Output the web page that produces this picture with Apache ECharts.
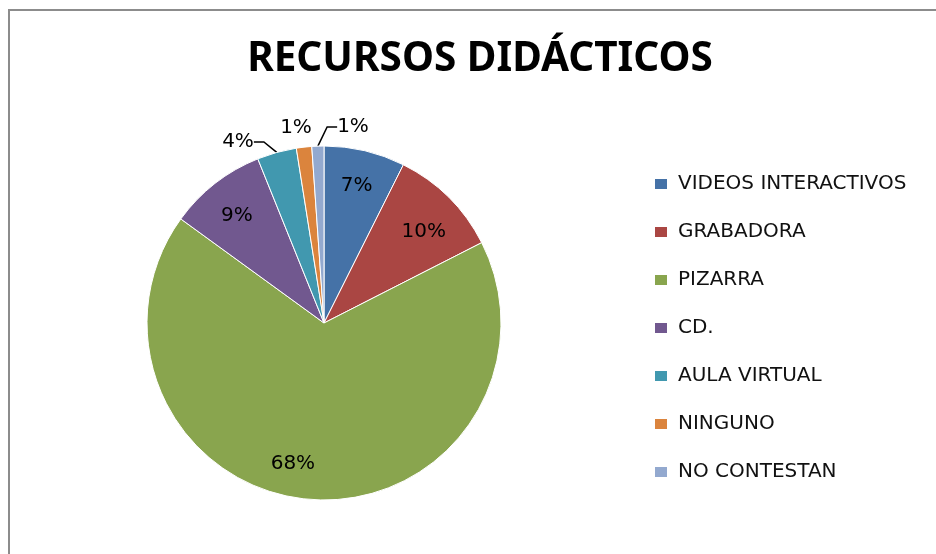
<!DOCTYPE html>
<html>
<head>
<meta charset="utf-8">
<script src="https://cdn.jsdelivr.net/npm/echarts@6/dist/echarts.min.js"></script>
<style>
html, body { margin: 0; padding: 0; background: #fff; }
#main { width: 936px; height: 554px; }
</style>
</head>
<body>
<div id="main"></div>
<script>
// datos del grafico
const categorias = ['VIDEOS INTERACTIVOS', 'GRABADORA', 'PIZARRA', 'CD.', 'AULA VIRTUAL', 'NINGUNO', 'NO CONTESTAN'];
const valores = [7.4, 10.1, 67.5, 8.9, 3.6, 1.4, 1.1];
const colores = ['#4572A7', '#AA4643', '#89A54E', '#71588F', '#4198AF', '#DB843D', '#93A9CF'];
const etiquetaFuera = [false, false, false, false, true, true, true];

const fuente = '"DejaVu Sans", sans-serif';

// donde van las etiquetas de fuera (estilo excel)
const posFuera = { 4: [238, 142], 5: [296, 128], 6: [353, 127] };
// pequenos ajustes de las etiquetas de dentro
const ajusteDentro = { 1: [0, 9], 2: [-20, 0], 3: [0, 4] };

const datos = categorias.map((n, i) => ({
  name: n,
  value: valores[i],
  itemStyle: { color: colores[i] },
  label: { show: etiquetaFuera[i] },
  labelLine: { show: etiquetaFuera[i] && i !== 5 }
}));

// serie transparente solo para las etiquetas interiores
const datosEtiqueta = categorias.map((n, i) => ({
  name: n,
  value: valores[i],
  itemStyle: { color: 'rgba(0,0,0,0)' },
  label: { show: !etiquetaFuera[i] }
}));

const myChart = echarts.init(document.getElementById('main'));
myChart.setOption({
  animation: false,
  title: {
    text: 'RECURSOS DIDÁCTICOS',
    left: 475,
    top: 34,
    textAlign: 'center',
    textStyle: { fontFamily: '"Noto Sans", sans-serif', fontSize: 40.5, fontWeight: 'bold', color: '#000' }
  },
  legend: {
    orient: 'vertical',
    left: 648,
    top: 169,
    itemWidth: 14,
    itemHeight: 12,
    itemGap: 28,
    icon: 'rect',
    data: categorias,
    textStyle: { fontFamily: fuente, fontSize: 20, color: '#111', lineHeight: 20, padding: [0, 0, 0, 5] }
  },
  graphic: [{
    type: 'rect',
    shape: { x: 9, y: 10, width: 1000, height: 1000 },
    style: { fill: 'none', stroke: '#8c8c8c', lineWidth: 2 },
    silent: true
  }],
  series: [
    {
      type: 'pie',
      center: [324, 323],
      radius: [0, 177],
      startAngle: 90,
      clockwise: true,
      silent: true,
      percentPrecision: 0,
      itemStyle: { borderColor: '#fff', borderWidth: 1 },
      label: {
        position: 'outside',
        formatter: '{d}%',
        fontFamily: fuente,
        fontSize: 20,
        color: '#000'
      },
      labelLine: { length: 10, length2: 10, lineStyle: { color: '#000', width: 1.5 } },
      labelLayout: function (p) {
        const pos = posFuera[p.dataIndex];
        if (!pos) return {};
        return { x: pos[0], y: pos[1], align: 'center', verticalAlign: 'middle' };
      },
      data: datos
    },
    {
      type: 'pie',
      center: [324, 323],
      radius: [100, 177],
      startAngle: 90,
      clockwise: true,
      silent: true,
      percentPrecision: 0,
      label: {
        position: 'inside',
        formatter: '{d}%',
        fontFamily: fuente,
        fontSize: 20,
        color: '#000'
      },
      labelLayout: function (p) {
        const d = ajusteDentro[p.dataIndex];
        if (!d) return {};
        return { dx: d[0], dy: d[1] };
      },
      labelLine: { show: false },
      data: datosEtiqueta
    }
  ]
});
</script>
</body>
</html>
